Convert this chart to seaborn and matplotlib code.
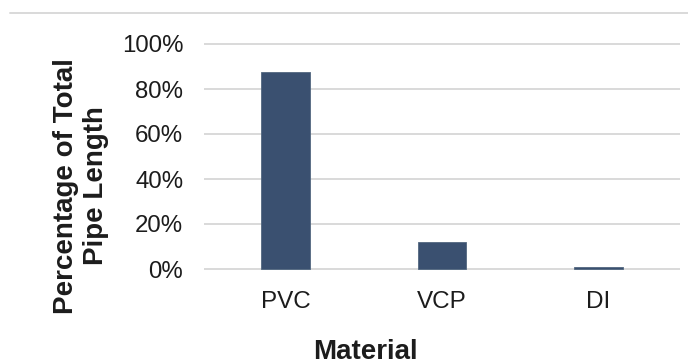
import matplotlib
matplotlib.use("Agg")
import matplotlib.pyplot as plt
from matplotlib.lines import Line2D
from matplotlib.ticker import PercentFormatter
import seaborn as sns
import pandas as pd

materials = ["PVC", "VCP", "DI"]
share_of_length = [0.874, 0.121, 0.008]
y_ticks = [0.0, 0.2, 0.4, 0.6, 0.8, 1.0]

sns.set_theme(style="white")
plt.rcParams["font.family"] = ["Liberation Sans", "DejaVu Sans"]

W, H = 688, 364
fig = plt.figure(figsize=(W / 100, H / 100), dpi=100)

# plot area in pixels: left, top, right, bottom
left, right = 204.1, 679.9
top, bottom = 41.75, 271.25
ax = fig.add_axes([left / W, 1 - bottom / H, (right - left) / W, (bottom - top) / H])
ax.set_axisbelow(True)

df = pd.DataFrame({"Material": materials, "Share": share_of_length})
sns.barplot(data=df, x="Material", y="Share", color="#3A5070", saturation=1,
            width=0.313, ax=ax, edgecolor="#52677f", linewidth=0.6)

ax.set_xlim(-0.52, 2.52)
ax.set_ylim(-0.01, 1.01)
ax.set_yticks(y_ticks)
ax.yaxis.set_major_formatter(PercentFormatter(1.0, decimals=0))
ax.grid(axis="y", color="#D9D9D9", linewidth=1.4)
ax.grid(axis="x", visible=False)
for s in ax.spines.values():
    s.set_visible(False)

ax.tick_params(axis="y", length=0, pad=15, labelsize=17.3, labelcolor="#1c1c1c")
ax.tick_params(axis="x", length=0, pad=14, labelsize=17.5, labelcolor="#1c1c1c")
ax.set_xlabel("")
ax.set_ylabel("")

fig.text(365 / W, 1 - 352 / H, "Material", ha="center", va="center",
         fontsize=20, fontweight="bold", color="#1c1c1c")
fig.text(81 / W, 1 - 186 / H, "Percentage of Total\nPipe Length", ha="center",
         va="center", rotation=90, fontsize=20, fontweight="bold",
         color="#1c1c1c", multialignment="center", linespacing=1.2)

# thin rule across the top of the figure
fig.add_artist(Line2D([10 / W, 1.0], [1 - 12.7 / H, 1 - 12.7 / H],
                      transform=fig.transFigure, color="#D9D9D9", linewidth=1.4))

fig.savefig("out.png", dpi=100)
